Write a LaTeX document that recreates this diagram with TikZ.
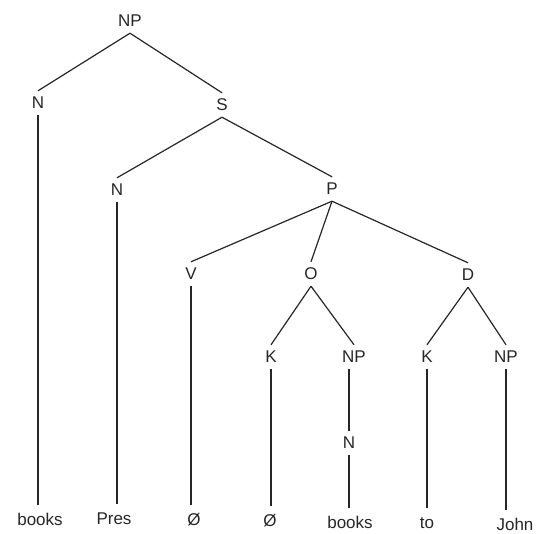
\documentclass[tikz,border=0pt]{standalone}
\usepackage{fontspec}
\setmainfont{Liberation Sans}
\begin{document}
\begin{tikzpicture}[x=1pt,y=-1pt,
  lab/.style={inner xsep=1pt,inner ysep=6pt,text height=12pt,text depth=0pt,font=\fontsize{17}{19}\selectfont,text=black!85},
  leaf/.style={lab,inner ysep=9pt},
  edge/.style={line width=1.2pt,draw=black!85}]
\useasboundingbox (0,0) rectangle (547,534);
\node[lab] (np0) at (130,21) {NP};
\node[lab] (n1) at (38,103) {N};
\node[lab] (s) at (222,105) {S};
\node[lab] (n2) at (117,190) {N};
\node[lab] (p) at (332,189) {P};
\node[lab] (v) at (191,274) {V};
\node[lab] (o) at (311,274) {O};
\node[lab] (d) at (468,275) {D};
\node[lab] (k1) at (271,357) {K};
\node[lab] (np1) at (354,357) {NP};
\node[lab] (k2) at (427,357) {K};
\node[lab] (np2) at (506,357) {NP};
\node[lab] (n3) at (349,443) {N};
\node[leaf] (l1) at (40,520) {books};
\node[leaf] (l2) at (114,519) {Pres};
\node[leaf] (l3) at (194,520) {Ø};
\node[leaf] (l4) at (270,521) {Ø};
\node[leaf] (l5) at (350,523) {books};
\node[leaf] (l6) at (427,523) {to};
\node[leaf] (l7) at (515,525) {John};
\draw[edge] (np0.south) -- (n1.north);
\draw[edge] (np0.south) -- (s.north);
\draw[edge] (s.south) -- (n2.north);
\draw[edge] (s.south) -- (p.north);
\draw[edge] (p.south) -- (v.north);
\draw[edge] (p.south) -- (o.north);
\draw[edge] (p.south) -- (d.north);
\draw[edge] (o.south) -- (k1.north);
\draw[edge] (o.south) -- (np1.north);
\draw[edge] (d.south) -- (k2.north);
\draw[edge] (d.south) -- (np2.north);
\draw[edge] (n3.north |- np1.south) -- (n3.north);
\draw[edge] (n1.south) -- (n1.south |- l1.north);
\draw[edge] (n2.south) -- (n2.south |- l2.north);
\draw[edge] (v.south) -- (v.south |- l3.north);
\draw[edge] (k1.south) -- (k1.south |- l4.north);
\draw[edge] (n3.south) -- (n3.south |- l5.north);
\draw[edge] (k2.south) -- (k2.south |- l6.north);
\draw[edge] (np2.south) -- (np2.south |- l7.north);
\end{tikzpicture}
\end{document}
